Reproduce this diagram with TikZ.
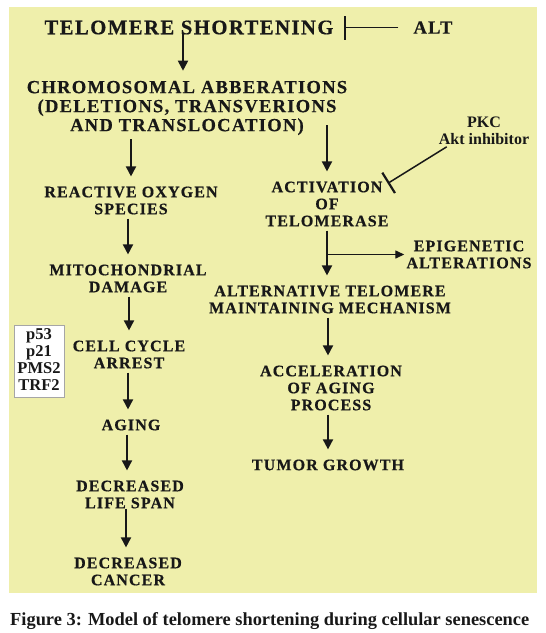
\documentclass[tikz,border=0pt]{standalone}
\usepackage{fontspec}
\setmainfont{Liberation Serif}
\newfontfamily\capsfont[LetterSpace=7, BoldFeatures={FakeBold=0.5}]{Liberation Serif}
\usetikzlibrary{arrows.meta}
\usetikzlibrary{calc}
\definecolor{paleyellow}{RGB}{239,239,171}
\definecolor{ink}{RGB}{24,24,24}

\begin{document}
\begin{tikzpicture}[x=1pt, y=-1pt,
		every text node part/.style={align=center},
		str/.style={inner sep=2pt, text=ink, font=\capsfont\bfseries\fontsize{16}{17}\selectfont},
		bigstr/.style={inner sep=2pt, text=ink, font=\capsfont\bfseries\fontsize{18.5}{19}\selectfont},
		titlestr/.style={inner sep=2pt, text=ink, font=\capsfont\bfseries\fontsize{20.7}{21}\selectfont},
		small/.style={inner sep=2pt, text=ink, font=\bfseries\fontsize{16}{16.5}\selectfont},
		genebox/.style={rectangle, draw=gray!70, fill=white, line width=0.8pt, inner sep=0pt, minimum width=50pt, minimum height=72pt, text=ink, font=\bfseries\fontsize{16.5}{17}\selectfont},
		arrow/.style={-{Triangle[width=10pt, length=10pt]}, line width=1.8pt, draw=ink, shorten <=2pt, shorten >=8pt},
		thinarrow/.style={-{Triangle[width=8pt, length=9pt]}, line width=1.4pt, draw=ink},
		inhibit/.style={-{Bar[width=24pt, line width=2.2pt]}, line width=1.5pt, draw=ink}]
		
		\useasboundingbox (0,0) rectangle (546,633);
		\fill[paleyellow] (9,7) rectangle (537,593);
		
		% top row
		\node[titlestr] (tel) at (189, 27.5) {TELOMERE SHORTENING};
		\node[bigstr] (alt) at (433, 27.5) {ALT};
		\draw[inhibit] ($(alt.west)+(-13,0)$) -- ($(tel.east)+(8,0)$);
		
		\node[bigstr] (chrom) at (187, 108) {CHROMOSOMAL ABBERATIONS\\(DELETIONS, TRANSVERIONS\\AND TRANSLOCATION)};
		\draw[arrow] ($(tel.south -| chrom.north)+(-4,-6)$) -- ($(chrom.north)+(-4,0)$);
		
		% left column
		\node[str] (ros) at (131, 200.5) {REACTIVE OXYGEN\\SPECIES};
		\node[str] (mito) at (128, 278.5) {MITOCHONDRIAL\\DAMAGE};
		\node[str] (cca) at (129, 354.5) {CELL CYCLE\\ARREST};
		\node[str] (aging) at (131, 425) {AGING};
		\node[str] (life) at (130, 494.5) {DECREASED\\LIFE SPAN};
		\node[str] (cancer) at (128, 571.5) {DECREASED\\CANCER};
		
		\node[genebox, text depth=2pt] (genes) at (39, 361) {p53\\p21\\PMS2\\TRF2};
		
		\draw[arrow] (ros.north |- chrom.south) -- (ros.north);
		\draw[arrow] (mito.north |- ros.south) -- (mito.north);
		\draw[arrow] (cca.north |- mito.south) -- (cca.north);
		\draw[arrow] ($(cca.south -| aging.north)+(-3,0)$) -- ($(aging.north)+(-3,0)$);
		\draw[arrow] ($(aging.south -| life.north)+(-3,0)$) -- ($(life.north)+(-3,0)$);
		\draw[arrow] ($(life.south -| cancer.north)+(-2,-4)$) -- ($(cancer.north)+(-2,0)$);
		
		% right column
		\node[str] (act) at (327, 204) {ACTIVATION\\OF\\TELOMERASE};
		\node[small] (pkc) at (484, 131) {PKC\\Akt inhibitor};
		\node[str] (epi) at (469, 254.5) {EPIGENETIC\\ALTERATIONS};
		\node[str] (altm) at (330, 299.5) {ALTERNATIVE TELOMERE\\MAINTAINING MECHANISM};
		\node[str] (accel) at (331, 388) {ACCELERATION\\OF AGING\\PROCESS};
		\node[str] (tumor) at (328, 465) {TUMOR GROWTH};
		
		\draw[arrow] ($(act.north |- chrom.south)+(0,-14)$) -- (act.north);
		\draw[inhibit] ($(pkc.south west)+(10,0)$) -- ($(act.north east)+(-3,4)$);
		\draw[arrow] (act.south) -- (act.south |- altm.north);
		\coordinate (split) at ($(act.south |- epi.west)$);
		\draw[thinarrow] (split) -- (epi.west);
		\draw[arrow] ($(altm.south -| accel.north)+(-3,0)$) -- ($(accel.north)+(-3,0)$);
		\draw[arrow] (tumor.north |- accel.south) -- (tumor.north);
		
		\node[anchor=west, inner sep=0pt, text=ink, font=\bfseries\fontsize{18.4}{20}\selectfont] (caption) at (10, 621) {Figure 3: Model of telomere shortening during cellular senescence};
		
	\end{tikzpicture}
\end{document}
